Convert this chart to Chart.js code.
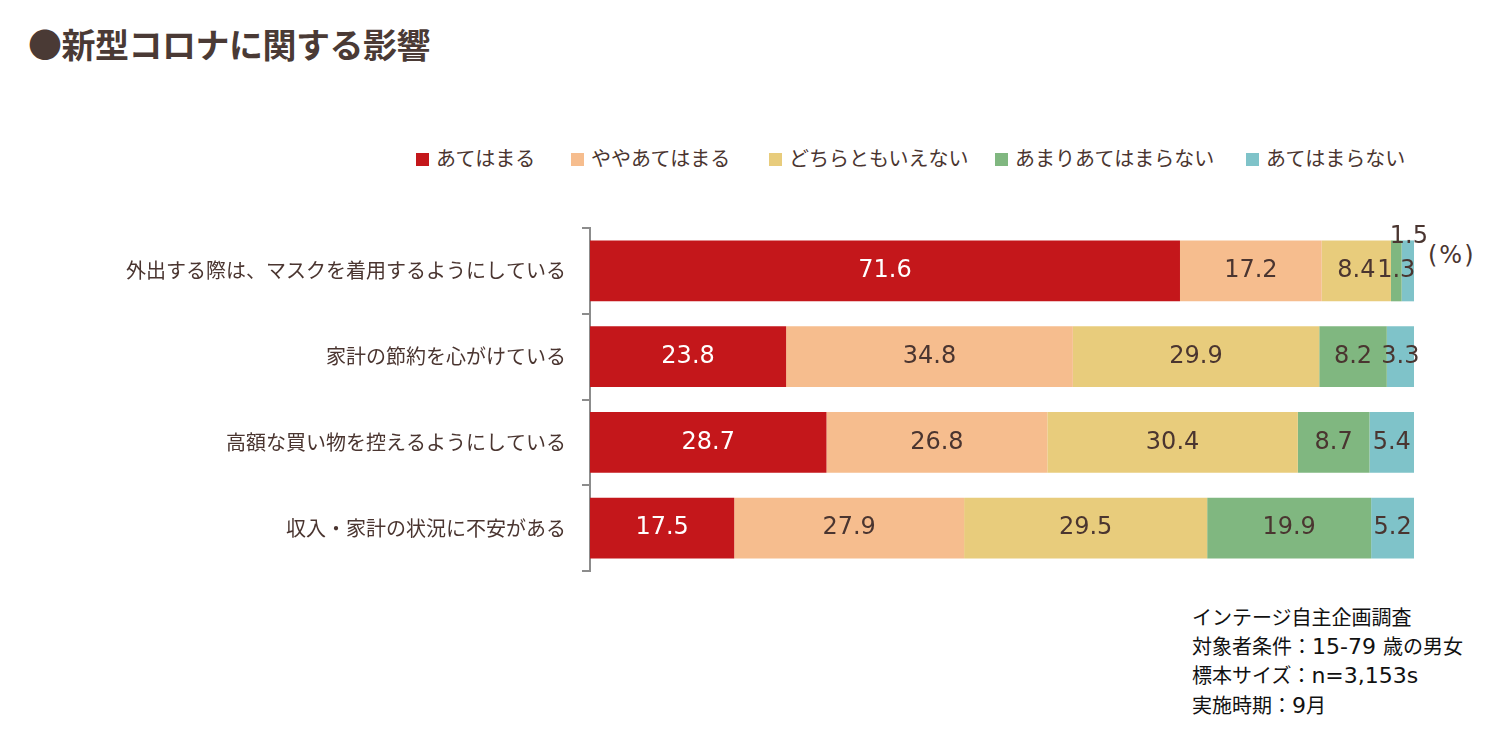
<!DOCTYPE html>
<html lang="ja">
<head>
<meta charset="UTF-8">
<title>新型コロナに関する影響</title>
<script src="https://cdn.jsdelivr.net/npm/chart.js"></script>
<style>
    body { margin: 0; background: #fff; font-family: "Noto Sans CJK JP", sans-serif; color: #4A3530; }
    #page { position: relative; width: 1510px; height: 732px; overflow: hidden; }
    #title { position: absolute; left: 28px; top: 21px; font-size: 34px; font-weight: bold; color: #4A3A35; line-height: 46px; letter-spacing: -0.5px; }
    .leg { position: absolute; top: 145px; font-size: 20px; line-height: 26px; white-space: nowrap; }
    .leg i { display: inline-block; width: 13px; height: 13px; margin-right: 7px; vertical-align: 0px; }
    #pct { position: absolute; left: 1428px; top: 241px; font-family: "DejaVu Sans", sans-serif; font-size: 24px; letter-spacing: 2px; }
    #note { position: absolute; left: 1192px; top: 603px; font-size: 20px; line-height: 28.7px; color: #111; white-space: nowrap; }
    #note b { font-weight: normal; font-family: "DejaVu Sans", sans-serif; font-size: 22px; }
    #wrap { position: absolute; left: 0; top: 200px; width: 1510px; height: 399px; }
</style>
</head>
<body>
<div id="page">
    <div id="title">●新型コロナに関する影響</div>
    <div id="legend"></div>
    <div id="pct">(%)</div>
    <div id="note">インテージ自主企画調査<br>対象者条件：<b>15-79 </b>歳の男女<br>標本サイズ：<b>n=3,153s</b><br>実施時期：<b>9</b>月</div>
    <div id="wrap"><canvas id="chart"></canvas></div>
</div>
<script>
// 設問
const categories = [
    '外出する際は、マスクを着用するようにしている',
    '家計の節約を心がけている',
    '高額な買い物を控えるようにしている',
    '収入・家計の状況に不安がある'
];
const seriesNames = ['あてはまる', 'ややあてはまる', 'どちらともいえない', 'あまりあてはまらない', 'あてはまらない'];
const atehamaru       = [71.6, 23.8, 28.7, 17.5];
const yaya            = [17.2, 34.8, 26.8, 27.9];
const dochiramo       = [8.4, 29.9, 30.4, 29.5];
const amari           = [1.3, 8.2, 8.7, 19.9];
const atehamaranai    = [1.5, 3.3, 5.4, 5.2];
const colors = ['#C4171B', '#F6BD8E', '#E8CC7C', '#80B780', '#7FC3C9'];
const legendX = [416, 571, 769, 995, 1246];

// 凡例
const legend = document.getElementById('legend');
seriesNames.forEach((n, i) => {
    const d = document.createElement('div');
    d.className = 'leg';
    d.style.left = legendX[i] + 'px';
    d.innerHTML = '<i style="background:' + colors[i] + '"></i>' + n;
    legend.appendChild(d);
});

const seriesData = [atehamaru, yaya, dochiramo, amari, atehamaranai];

// 数値ラベル
const valueLabels = {
    id: 'valueLabels',
    afterDatasetsDraw(chart) {
        const ctx = chart.ctx;
        ctx.save();
        ctx.font = '24px "DejaVu Sans"';
        ctx.textAlign = 'center';
        ctx.textBaseline = 'middle';
        chart.data.datasets.forEach((ds, di) => {
            const meta = chart.getDatasetMeta(di);
            meta.data.forEach((bar, i) => {
                const v = ds.data[i];
                const w = Math.abs(bar.x - bar.base);
                let x = (bar.x + bar.base) / 2;
                let y = bar.y;
                ctx.fillStyle = di === 0 ? '#fff' : '#4A3530';
                if (di === chart.data.datasets.length - 1 && w < 15) {
                    // 細すぎる場合は上に出す
                    x += 1;
                    y = bar.y - bar.height / 2 - 4;
                }
                ctx.fillText(v.toFixed(1), x, y);
            });
        });
        ctx.restore();
    }
};

new Chart(document.getElementById('chart'), {
    type: 'bar',
    data: {
        labels: categories,
        datasets: seriesData.map((d, i) => ({
            label: seriesNames[i],
            data: d,
            backgroundColor: colors[i],
            barPercentage: 0.71,
            categoryPercentage: 1
        }))
    },
    options: {
        indexAxis: 'y',
        responsive: true,
        maintainAspectRatio: false,
        animation: false,
        layout: { padding: { left: 0, right: 96, top: 0, bottom: 0 } },
        plugins: { legend: { display: false }, tooltip: { enabled: false } },
        scales: {
            x: { stacked: true, min: 0, max: 100, display: false },
            y: {
                stacked: true,
                afterFit: (s) => { s.width = 590; },
                grid: { offset: true, drawOnChartArea: false, color: '#8C8C8C', lineWidth: 2, tickLength: 8 },
                border: { color: '#8C8C8C', width: 2 },
                ticks: {
                    color: '#4A3530',
                    padding: 16,
                    font: { family: '"Noto Sans CJK JP"', size: 20 }
                }
            }
        }
    },
    plugins: [valueLabels]
});
</script>
</body>
</html>
